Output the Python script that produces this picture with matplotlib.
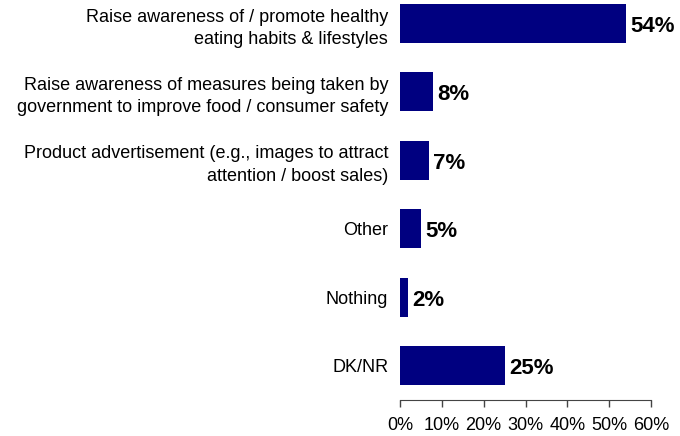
import matplotlib.pyplot as plt
from matplotlib.ticker import PercentFormatter

plt.rcParams['font.family'] = ['Liberation Sans', 'DejaVu Sans']

categories = [
    "Raise awareness of / promote healthy\neating habits & lifestyles",
    "Raise awareness of measures being taken by\ngovernment to improve food / consumer safety",
    "Product advertisement (e.g., images to attract\nattention / boost sales)",
    "Other",
    "Nothing",
    "DK/NR",
]
values = [54, 8, 7, 5, 2, 25]
ticks = [0, 10, 20, 30, 40, 50, 60]

fig = plt.figure(figsize=(6.8, 4.36), dpi=100)
ax = fig.add_axes([400 / 680, 36 / 436, 251 / 680, 400 / 436])

ypos = list(range(len(categories)))
ax.barh(ypos, values, height=0.57, color="#000080")

# value labels sit just right of each bar, a touch below centre
for y, v in zip(ypos, values):
    ax.text(v + 1.0, y + 0.04, f"{v}%", va="center", ha="left",
            fontsize=16, fontweight="bold", color="black")

ax.set_yticks(ypos)
ax.set_yticklabels(categories, fontsize=13, linespacing=1.4)
ax.tick_params(axis="y", length=0, pad=8.5)
ax.set_ylim(5.5, -0.344)

ax.set_xlim(0, 60)
ax.set_xticks(ticks)
ax.xaxis.set_major_formatter(PercentFormatter(decimals=0))
ax.tick_params(axis="x", labelsize=13, length=5, width=1, color="#444444", pad=7)

for s in ["top", "right", "left"]:
    ax.spines[s].set_visible(False)
ax.spines["bottom"].set_color("#444444")

fig.savefig("out.png", dpi=100)
